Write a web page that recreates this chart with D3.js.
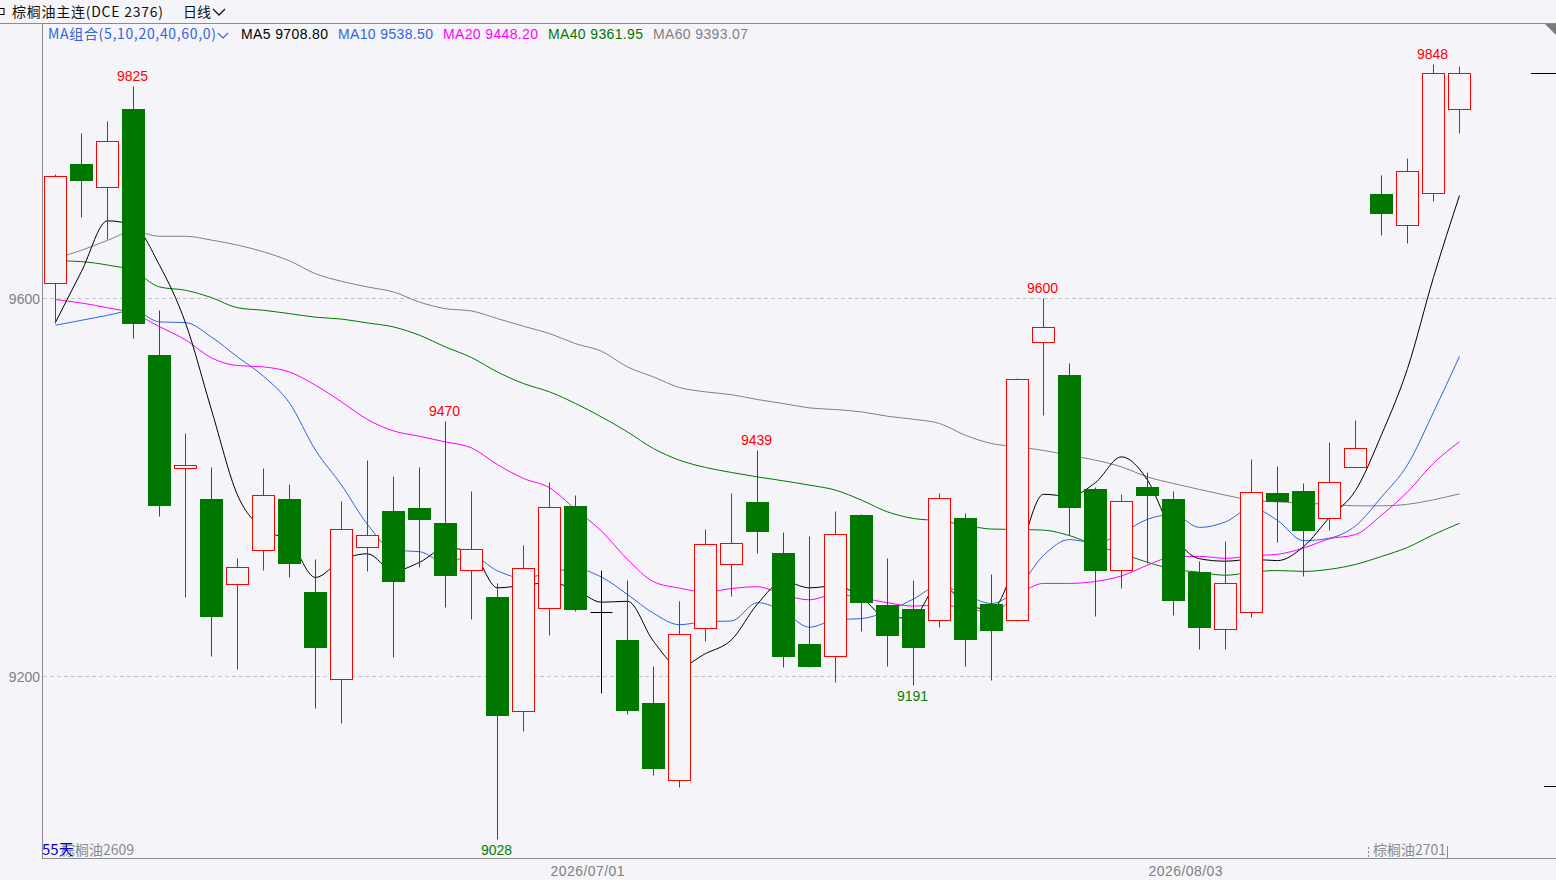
<!DOCTYPE html>
<html>
<head>
<meta charset="utf-8">
<script src="https://cdn.jsdelivr.net/npm/d3@7/dist/d3.min.js"></script>
<style>
html,body{margin:0;padding:0;background:#f5f5f9;}
svg{display:block;}
text{font-family:"Liberation Sans","Noto Sans CJK SC",sans-serif;}
.cjk{font-family:"Noto Sans CJK SC","Liberation Sans",sans-serif;}
</style>
</head>
<body>
<svg id="chart" width="1556" height="880"></svg>
<script>
// ---------------- data ----------------
const dates = [
"2026/06/03","2026/06/04","2026/06/05","2026/06/08","2026/06/09","2026/06/10","2026/06/11","2026/06/12","2026/06/15","2026/06/16",
"2026/06/17","2026/06/18","2026/06/22","2026/06/23","2026/06/24","2026/06/25","2026/06/26","2026/06/29","2026/06/30","2026/07/01",
"2026/07/02","2026/07/03","2026/07/06","2026/07/07","2026/07/08","2026/07/09","2026/07/10","2026/07/13","2026/07/14","2026/07/15",
"2026/07/16","2026/07/17","2026/07/20","2026/07/21","2026/07/22","2026/07/23","2026/07/24","2026/07/27","2026/07/28","2026/07/29",
"2026/07/30","2026/07/31","2026/08/03","2026/08/04","2026/08/05","2026/08/06","2026/08/07","2026/08/10","2026/08/11","2026/08/12",
"2026/08/13","2026/08/14","2026/08/17","2026/08/18","2026/08/19"];
const open  = [9616,9742,9718,9800,9540,9420,9388,9298,9334,9388, 9289,9197,9337,9375,9378,9362,9312,9284,9163,9272, 9380,9268,9238,9172,9090,9251,9319,9384,9331,9234, 9221,9371,9275,9271,9260,9368,9276,9260,9554,9519, 9398,9312,9400,9388,9310,9250,9268,9394,9396,9368, 9422,9710,9678,9711,9800];
const high  = [9732,9775,9788,9825,9588,9457,9422,9325,9420,9404, 9324,9385,9429,9412,9422,9470,9396,9299,9339,9406, 9392,9312,9302,9211,9280,9356,9394,9439,9353,9348, 9375,9372,9325,9302,9394,9373,9308,9516,9600,9532, 9400,9393,9416,9396,9322,9343,9430,9423,9405,9448, 9471,9730,9748,9848,9846];
const low   = [9574,9686,9663,9558,9370,9284,9221,9208,9312,9305, 9166,9151,9311,9220,9316,9273,9261,9028,9142,9244, 9269,9182,9160,9096,9083,9237,9285,9331,9210,9210, 9194,9248,9211,9191,9252,9211,9196,9259,9477,9350, 9264,9293,9320,9265,9229,9229,9263,9342,9306,9355, 9422,9667,9658,9703,9775];
const close = [9729,9725,9766,9574,9381,9424,9264,9316,9392,9320, 9231,9356,9349,9301,9366,9307,9335,9159,9315,9379, 9271,9268,9164,9103,9245,9340,9341,9354,9222,9211, 9351,9279,9244,9231,9389,9240,9249,9515,9570,9379, 9312,9385,9392,9281,9252,9299,9395,9385,9355,9406, 9442,9690,9735,9838,9838];

const ma5  = [9574.6,9628.5,9682,9677,9635,9574,9481.8,9391.8,9355.4,9343.2, 9304.6,9323,9329.6,9311.4,9320.6,9335.8,9331.6,9293.6,9296.4,9299, 9291.8,9278.4,9279.4,9237,9210.2,9224,9238.6,9276.6,9300.4,9293.6, 9295.8,9283.4,9261.4,9263.2,9298.8,9276.6,9270.6,9324.8,9392.6,9390.6, 9405,9432.2,9407.6,9349.8,9324.4,9321.8,9323.8,9322.4,9337.2,9368, 9396.6,9455.6,9525.6,9622.2,9708.8];
const ma10 = [9571.5,9576.7,9582,9587,9575,9574.3,9559,9538,9517.5,9489.1, 9439.3,9402.4,9360.7,9333.4,9331.9,9320.2,9327.3,9311.6,9303.9,9309.8, 9313.8,9305,9286.5,9266.7,9254.6,9257.9,9258.5,9278,9268.7,9251.9, 9259.9,9261,9269,9281.8,9296.2,9286.2,9277,9293.1,9327.9,9344.7, 9340.8,9351.4,9366.2,9371.2,9357.5,9363.4,9378,9365,9343.5,9346.2, 9359.2,9389.7,9423.8,9479.5,9538.5];
const ma20 = [9598.6,9595,9590,9584,9570,9556,9536.9,9528.8,9527.4,9522, 9508,9490.4,9471.7,9459.7,9454,9448,9441.7,9424,9409.4,9399.5, 9376.6,9353.7,9323.6,9300.1,9293.3,9289.1,9292.9,9294.8,9286.3,9280.9, 9286.9,9283,9277.8,9274.3,9275.4,9272.1,9267.8,9285.6,9298.3,9298.3, 9300.4,9306.2,9317.6,9326.5,9326.9,9324.8,9327.5,9329.1,9335.7,9345.5, 9350,9370.6,9395.1,9425.5,9448.2];
const ma40 = [9639.8,9638.8,9635.2,9628.9,9612,9608.5,9600.7,9590,9587.3,9583.8, 9580,9578,9573.9,9569.7,9560.9,9548.5,9537.3,9522,9509.8,9501, 9488.7,9474.5,9458.6,9441,9428.7,9421,9415.7,9411,9406.8,9402.3, 9397,9386.4,9374,9367,9364.6,9360,9355.8,9355.4,9354.7,9348.9, 9338.5,9330,9320.6,9313.3,9310.1,9306.9,9310.2,9311.9,9311,9313.2, 9318.4,9326.8,9336.4,9349.9,9362];
const ma60 = [9642,9650.8,9661.3,9670.8,9665.6,9665.6,9661.6,9656.3,9649.2,9639.6, 9626,9618,9612,9606.7,9596,9589,9586.6,9578.5,9570.4,9562.7, 9552,9544,9527.4,9516.8,9505.6,9501,9498,9492.9,9488.6,9484, 9482.3,9479.8,9475.2,9472,9467.5,9455,9446.3,9442.8,9439,9434, 9428.7,9421.6,9411,9404,9397.7,9391.7,9386.4,9384.6,9383.3,9381.9, 9380.4,9380.4,9382,9386.8,9393.1];

const maNames  = ["MA5","MA10","MA20","MA40","MA60"];
const maLegend = ["9708.80","9538.50","9448.20","9361.95","9393.07"];
const yTicks = [9200, 9600];
const xTickLabels = ["2026/07/01","2026/08/03"];
const highMarkDates = ["2026/06/08","2026/06/25","2026/07/13","2026/07/28","2026/08/18"];
const lowMarkDates  = ["2026/06/29","2026/07/21"];
const rightMarks = [9838, 9084];

// ---------------- layout ----------------
const W = 1556, H = 880;
const svg = d3.select("#chart");
const bg = "#f5f5f9";
const RED = "#ff0000", GREEN = "#007800";
const maColors = ["#000000","#3264dc","#ff00ff","#007800","#808080"];

const x = d3.scaleBand().domain(dates).range([42.5, 1472.5]).padding(0);
const y = d3.scaleLinear().domain([9200, 9600]).range([676.3, 298.3]);
const cx = d => x(d) + x.bandwidth()/2;
const bodyW = Math.round(x.bandwidth()*0.85);
const crisp = v => Math.round(v) + 0.5;

svg.append("rect").attr("width",W).attr("height",H).attr("fill",bg);

// frame lines
svg.append("line").attr("x1",0).attr("x2",W).attr("y1",23.5).attr("y2",23.5).attr("stroke","#8c8c8c");
svg.append("line").attr("x1",42.5).attr("x2",42.5).attr("y1",23).attr("y2",858).attr("stroke","#8c8c8c");
svg.append("line").attr("x1",42).attr("x2",W).attr("y1",858.5).attr("y2",858.5).attr("stroke","#8c8c8c");

// grid + y labels
yTicks.forEach(t => {
  const yy = crisp(y(t));
  svg.append("line").attr("x1",43).attr("x2",W).attr("y1",yy).attr("y2",yy)
    .attr("stroke","#c4c4c4").attr("stroke-dasharray","4,3");
  svg.append("text").attr("x",40).attr("y",yy+5).attr("text-anchor","end")
    .attr("font-size",14).attr("fill","#7f7f7f").text(t);
});

// x labels
xTickLabels.forEach(d => {
  svg.append("text").attr("x",cx(d)+1).attr("y",876).attr("font-size",14)
    .attr("textLength",74).attr("lengthAdjust","spacing")
    .attr("fill","#7f7f7f").text(d);
});

// MA lines
const maSeries = [ma5, ma10, ma20, ma40, ma60];
const line = d3.line().x((v,i)=>cx(dates[i])).y(v=>y(v)).curve(d3.curveMonotoneX);
maSeries.slice().reverse().forEach((s,k) => {
  const idx = maSeries.length-1-k;
  svg.append("path").attr("d", line(s)).attr("fill","none")
    .attr("stroke", maColors[idx]).attr("stroke-width",1);
});

// candles
const g = svg.append("g");
dates.forEach((d,i) => {
  const o=open[i], c=close[i], h=high[i], l=low[i];
  const xc = cx(d);
  const up = c > o, doji = c === o;
  const col = doji ? "#000000" : (up ? RED : GREEN);
  const yTop = crisp(y(Math.max(o,c))), yBot = crisp(y(Math.min(o,c)));
  g.append("line").attr("x1",xc).attr("x2",xc).attr("y1",crisp(y(h))).attr("y2",crisp(y(l)))
    .attr("stroke",col);
  if (doji) {
    g.append("line").attr("x1",xc-bodyW/2).attr("x2",xc+bodyW/2).attr("y1",yTop).attr("y2",yTop).attr("stroke",col);
  } else {
    g.append("rect").attr("x",xc-bodyW/2).attr("y",yTop).attr("width",bodyW).attr("height",Math.max(1,yBot-yTop))
      .attr("fill", up ? bg : GREEN).attr("stroke", col).attr("stroke-width",1);
  }
});

// high / low marks
highMarkDates.forEach(d => {
  const i = dates.indexOf(d);
  svg.append("text").attr("x",cx(d)-1).attr("y",y(high[i])-5).attr("text-anchor","middle")
    .attr("font-size",14).attr("fill",RED).text(high[i]);
});
lowMarkDates.forEach(d => {
  const i = dates.indexOf(d);
  svg.append("text").attr("x",cx(d)-1).attr("y",y(low[i])+16).attr("text-anchor","middle")
    .attr("font-size",14).attr("fill","#008000").text(low[i]);
});

// right price markers
svg.append("line").attr("x1",1531).attr("x2",W).attr("y1",crisp(y(rightMarks[0]))).attr("y2",crisp(y(rightMarks[0]))).attr("stroke","#000");
svg.append("line").attr("x1",1544).attr("x2",W).attr("y1",crisp(y(rightMarks[1]))).attr("y2",crisp(y(rightMarks[1]))).attr("stroke","#000");

// top-right corner triangle
svg.append("path").attr("d","M1545,24 L1556,24 L1556,35 Z").attr("fill","#7a7a7a");

// title
svg.append("rect").attr("x",-3).attr("y",8.5).attr("width",7).attr("height",6).attr("fill","none").attr("stroke","#000");
svg.append("text").attr("class","cjk").attr("x",12).attr("y",17).attr("font-size",14)
  .attr("textLength",151).attr("lengthAdjust","spacing").attr("fill","#111").text("棕榈油主连(DCE 2376)");
svg.append("text").attr("class","cjk").attr("x",183).attr("y",17).attr("font-size",14).attr("fill","#111").text("日线");
svg.append("path").attr("d","M213,9 L219,15 L225,9").attr("fill","none").attr("stroke","#111").attr("stroke-width",1.3);

// MA legend
svg.append("text").attr("class","cjk").attr("x",48).attr("y",39).attr("font-size",14)
  .attr("textLength",168).attr("lengthAdjust","spacing").attr("fill","#3264dc").text("MA组合(5,10,20,40,60,0)");
svg.append("path").attr("d","M218,33 L223,38 L228,33").attr("fill","none").attr("stroke","#3264dc").attr("stroke-width",1.2);
const legendX = [241, 338, 443, 548, 653];
const legendW = [87, 95, 95, 95, 95];
maNames.forEach((n,i) => {
  svg.append("text").attr("x",legendX[i]).attr("y",39).attr("font-size",14)
    .attr("textLength",legendW[i]).attr("lengthAdjust","spacing")
    .attr("fill",maColors[i]).text(n + " " + maLegend[i]);
});

// bottom labels
svg.append("text").attr("class","cjk").attr("x",61).attr("y",855).attr("font-size",14).attr("fill","#8a8a8a").text("棕榈油2609");
svg.append("text").attr("class","cjk").attr("x",42).attr("y",855).attr("font-size",15).attr("fill","#0000c8").text("55天");
svg.append("text").attr("class","cjk").attr("x",1373).attr("y",855).attr("font-size",14).attr("fill","#8a8a8a").text("棕榈油2701");
svg.append("line").attr("x1",1368.5).attr("x2",1368.5).attr("y1",847).attr("y2",858).attr("stroke","#8a8a8a").attr("stroke-dasharray","2,2");
svg.append("line").attr("x1",1447.5).attr("x2",1447.5).attr("y1",846).attr("y2",858).attr("stroke","#8a8a8a");
</script>
</body>
</html>
